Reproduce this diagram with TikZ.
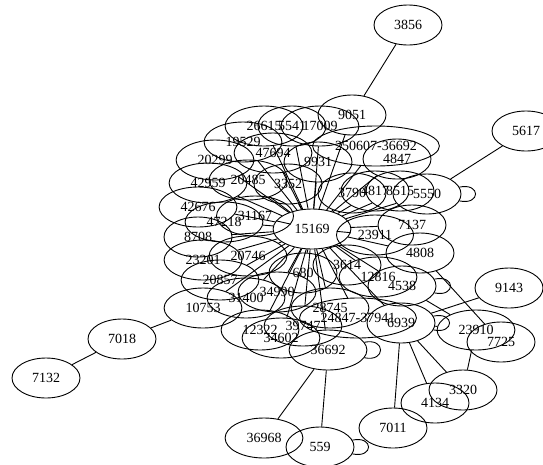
\documentclass[tikz,border=0pt]{standalone}
\usepackage{fontspec}
\setmainfont{Liberation Serif}
\usetikzlibrary{shapes.geometric}
\tikzset{
  nd/.style={ellipse,draw,line width=0.9pt,inner xsep=10pt,inner ysep=2pt,minimum width=68pt,minimum height=40pt,font=\fontsize{14pt}{16pt}\selectfont},
  ed/.style={line width=0.9pt},
  lp/.style={line width=0.9pt,min distance=22pt}
}
\begin{document}
\begin{tikzpicture}[x=1pt,y=-1pt]
\useasboundingbox (0,0) rectangle (543,464);
% cluster nodes
\node[nd] (n15169) at (312,229) {15169};
\node[nd] (n3856) at (408,25) {3856};
\node[nd] (n9051) at (352,115) {9051};
\node[nd] (n26615) at (264,126) {26615};
\node[nd] (n5541) at (292,126) {5541};
\node[nd] (n17009) at (320,126) {17009};
\node[nd] (n19529) at (243,142) {19529};
\node[nd] (n47694) at (273,153) {47694};
\node[nd] (n9931) at (318,162) {9931};
\node[nd,inner xsep=4pt] (n250607) at (376,146) {250607-36692};
\node[nd] (n4847) at (397,159) {4847};
\node[nd] (n20299) at (215,160) {20299};
\node[nd] (n20485) at (248,180) {20485};
\node[nd] (n42959) at (208,183) {42959};
\node[nd] (n3352) at (288,184) {3352};
\node[nd] (n5617) at (526,131) {5617};
\node[nd] (n3790) at (352,193) {3790};
\node[nd] (n4817) at (375,191) {4817};
\node[nd] (n8515) at (400,191) {8515};
\node[nd] (n5550) at (427,194) {5550};
\node[nd] (n42676) at (198,207) {42676};
\node[nd] (n31167) at (255,216) {31167};
\node[nd] (n47218) at (224,222) {47218};
\node[nd] (n8708) at (198,237) {8708};
\node[nd] (n7137) at (412,225) {7137};
\node[nd] (n23911) at (375,235) {23911};
\node[nd] (n4808) at (420,253) {4808};
\node[nd] (n20746) at (248,256) {20746};
\node[nd] (n23201) at (203,260) {23201};
\node[nd] (n680) at (303,273) {680};
\node[nd] (n3614) at (347,265) {3614};
\node[nd] (n12816) at (378,277) {12816};
\node[nd] (n4538) at (402,286) {4538};
\node[nd] (n20857) at (220,280) {20857};
\node[nd] (n34990) at (277,292) {34990};
\node[nd] (n31400) at (246,298) {31400};
\node[nd] (n10753) at (203,308) {10753};
\node[nd] (n9143) at (509,288) {9143};
\node[nd] (n28745) at (330,308) {28745};
\node[nd,inner xsep=4pt] (n24847) at (358,318) {24847-37941};
\node[nd] (n39747) at (303,326) {39747};
\node[nd] (n12322) at (260,330) {12322};
\node[nd] (n34602) at (281,338) {34602};
\node[nd] (n6939) at (401,323) {6939};
\node[nd] (n23910) at (476,330) {23910};
\node[nd] (n7725) at (501,342) {7725};
\node[nd] (n36692) at (328,350) {36692};
\node[nd] (n7018) at (122,339) {7018};
\node[nd] (n7132) at (46,378) {7132};
\node[nd] (n3320) at (463,390) {3320};
\node[nd] (n4134) at (435,403) {4134};
\node[nd] (n7011) at (393,428) {7011};
\node[nd] (n36968) at (264,438) {36968};
\node[nd] (n559) at (320,447) {559};
% hub edges
\foreach \t in {n26615,n5541,n17009,n9051,n19529,n47694,n9931,n250607,n4847,n20299,n20485,n42959,n3352,n3790,n4817,n8515,n5550,n42676,n31167,n47218,n8708,n7137,n23911,n4808,n20746,n23201,n680,n3614,n12816,n4538,n20857,n34990,n31400,n10753,n28745,n24847,n39747,n12322,n34602,n36692,n6939}
  \draw[ed] (n15169) -- (\t);
% other edges
\draw[ed] (n3856) -- (n9051);
\draw[ed] (n5617) -- (n5550);
\draw[ed] (n9143) -- (n6939);
\draw[ed] (n6939) -- (n23910);
\draw[ed] (n4538) -- (n23910);
\draw[ed] (n4808) -- (n7725);
\draw[ed] (n23910) -- (n3320);
\draw[ed] (n6939) -- (n4134);
\draw[ed] (n6939) -- (n3320);
\draw[ed] (n6939) -- (n7011);
\draw[ed] (n7018) -- (n10753);
\draw[ed] (n7018) -- (n7132);
\draw[ed] (n36692) -- (n36968);
\draw[ed] (n36692) -- (n559);
% self loops
\draw[lp] (n5550) to[out=12,in=-12] (n5550);
\draw[lp] (n4538) to[out=12,in=-12] (n4538);
\draw[lp] (n36692) to[out=12,in=-12] (n36692);
\draw[lp] (n559) to[out=12,in=-12] (n559);
\draw[lp] (n6939) to[out=12,in=-12] (n6939);
\end{tikzpicture}
\end{document}
